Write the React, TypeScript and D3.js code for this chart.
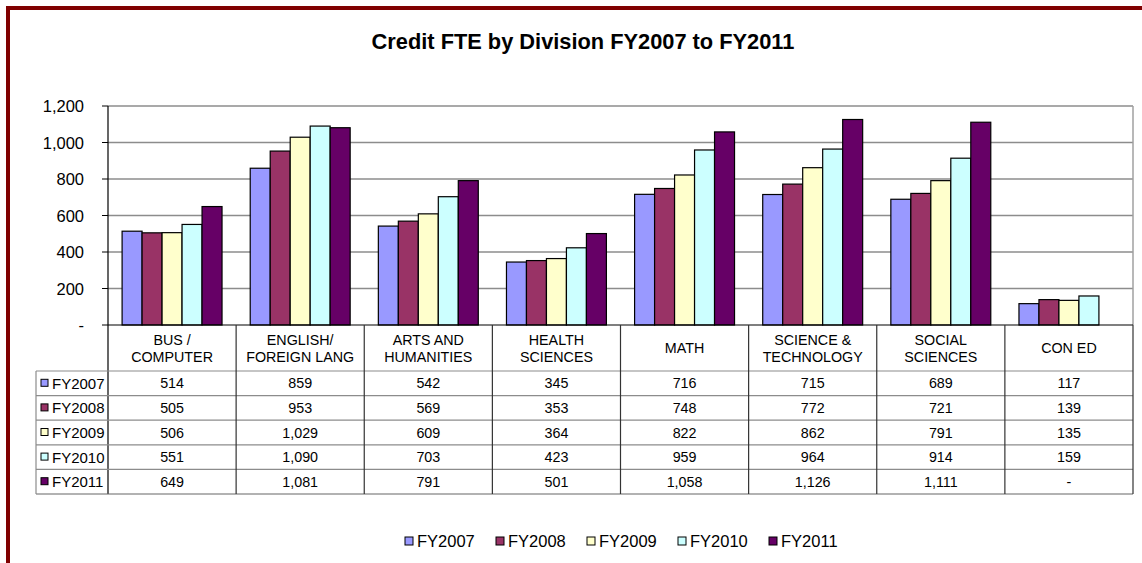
import React from "react";
import * as d3 from "d3";

const categories: string[][] = [
  ["BUS /", "COMPUTER"],
  ["ENGLISH/", "FOREIGN LANG"],
  ["ARTS AND", "HUMANITIES"],
  ["HEALTH", "SCIENCES"],
  ["MATH"],
  ["SCIENCE &", "TECHNOLOGY"],
  ["SOCIAL", "SCIENCES"],
  ["CON ED"],
];
const seriesNames = ["FY2007", "FY2008", "FY2009", "FY2010", "FY2011"];
const seriesColors = ["#9999FF", "#993366", "#FFFFCC", "#CCFFFF", "#660066"];
const fy2007 = [514, 859, 542, 345, 716, 715, 689, 117];
const fy2008 = [505, 953, 569, 353, 748, 772, 721, 139];
const fy2009 = [506, 1029, 609, 364, 822, 862, 791, 135];
const fy2010 = [551, 1090, 703, 423, 959, 964, 914, 159];
const fy2011: (number | null)[] = [649, 1081, 791, 501, 1058, 1126, 1111, null];
const seriesValues = [fy2007, fy2008, fy2009, fy2010, fy2011];
const yTicks = [0, 200, 400, 600, 800, 1000, 1200];

const W = 1142;
const H = 563;
const FONT = "Arial, 'Liberation Sans', sans-serif";

export default function App() {
  const plotLeft = 108;
  const plotRight = 1133;
  const plotTop = 106;
  const plotBottom = 325;
  const tableLeft = 36;
  const headerBottom = 371;
  const rowH = 24.6;
  const tableBottom = headerBottom + rowH * 5;

  const x = d3
    .scaleBand<number>()
    .domain(d3.range(categories.length))
    .range([plotLeft, plotRight])
    .paddingInner(0)
    .paddingOuter(0);
  const bw = x.bandwidth();
  const inner = d3
    .scaleBand<number>()
    .domain(d3.range(seriesNames.length))
    .range([bw * 0.11, bw * 0.89]);
  const y = d3.scaleLinear().domain([0, 1200]).range([plotBottom, plotTop]);
  const fmt = d3.format(",");

  return (
    <svg width={W} height={H} style={{ display: "block", position: "absolute", left: 0, top: 0 }} fontFamily={FONT}>
      <rect x={0} y={0} width={W} height={H} fill="#fff" />
      {/* frame */}
      <rect x={8} y={8} width={W + 20} height={H + 20} fill="none" stroke="#800000" strokeWidth={4} />
      {/* title */}
      <text x={583} y={49} textAnchor="middle" fontSize={21.8} fontWeight="bold" fill="#000">
        Credit FTE by Division FY2007 to FY2011
      </text>
      {/* gridlines */}
      {yTicks.filter((t) => t > 0).map((t) => (
        <line key={t} x1={plotLeft} x2={plotRight} y1={y(t)} y2={y(t)} stroke="#8c8c8c" strokeWidth={1.5} />
      ))}
      {/* plot right border */}
      <line x1={plotRight} x2={plotRight} y1={plotTop} y2={plotBottom} stroke="#a0a0a0" strokeWidth={1.5} />
      {/* y tick labels and marks */}
      {yTicks.map((t) => (
        <g key={t}>
          <line x1={plotLeft - 6} x2={plotLeft} y1={y(t)} y2={y(t)} stroke="#000" />
          <text x={84} y={y(t) + 6} textAnchor="end" fontSize={16.5} fill="#000">
            {t === 0 ? "-" : fmt(t)}
          </text>
        </g>
      ))}
      {/* bars */}
      {seriesValues.map((vals, si) =>
        vals.map((v, ci) =>
          v == null ? null : (
            <rect
              key={`${si}-${ci}`}
              x={(x(ci) as number) + (inner(si) as number)}
              y={y(v)}
              width={inner.bandwidth()}
              height={plotBottom - y(v)}
              fill={seriesColors[si]}
              stroke="#000"
              strokeWidth={1.2}
            />
          )
        )
      )}
      {/* axes */}
      <line x1={plotLeft} x2={plotLeft} y1={plotTop} y2={tableBottom} stroke="#000" strokeWidth={1.2} />
      <line x1={plotLeft} x2={plotRight} y1={plotBottom} y2={plotBottom} stroke="#000" strokeWidth={1.2} />
      {/* table horizontal lines */}
      {d3.range(6).map((i) => (
        <line
          key={i}
          x1={tableLeft}
          x2={plotRight}
          y1={headerBottom + i * rowH}
          y2={headerBottom + i * rowH}
          stroke={i === 5 ? "#666" : "#8c8c8c"}
          strokeWidth={1.2}
        />
      ))}
      <line x1={tableLeft} x2={tableLeft} y1={headerBottom} y2={tableBottom} stroke="#8c8c8c" strokeWidth={1.2} />
      {/* table vertical lines */}
      {d3.range(1, categories.length + 1).map((i) => {
        const xx = i === categories.length ? plotRight : (x(i) as number);
        return <line key={i} x1={xx} x2={xx} y1={plotBottom} y2={tableBottom} stroke="#333" strokeWidth={1.2} />;
      })}
      {/* header labels */}
      {categories.map((lines, ci) => {
        const cx = (x(ci) as number) + bw / 2;
        const baseY = lines.length === 1 ? 353 : 345;
        return (
          <text key={ci} textAnchor="middle" fontSize={14.3} fill="#000">
            {lines.map((l, li) => (
              <tspan key={li} x={cx} y={baseY + li * 16.5}>
                {l}
              </tspan>
            ))}
          </text>
        );
      })}
      {/* rows */}
      {seriesValues.map((vals, si) => {
        const rowTop = headerBottom + si * rowH;
        const by = rowTop + rowH / 2 + 5;
        return (
          <g key={si}>
            <rect x={41} y={rowTop + rowH / 2 - 4} width={7} height={7} fill={seriesColors[si]} stroke="#000" strokeWidth={1} />
            <text x={52} y={by + 0.5} fontSize={15} fill="#000">
              {seriesNames[si]}
            </text>
            {vals.map((v, ci) => (
              <text key={ci} x={(x(ci) as number) + bw / 2} y={by} textAnchor="middle" fontSize={14.3} fill="#000">
                {v == null ? "-" : fmt(v)}
              </text>
            ))}
          </g>
        );
      })}
      {/* legend */}
      {seriesNames.map((n, si) => {
        const lx = 405 + si * 91;
        return (
          <g key={n}>
            <rect x={lx} y={537} width={8} height={8} fill={seriesColors[si]} stroke="#000" strokeWidth={1} />
            <text x={lx + 12} y={547} fontSize={16.5} fill="#000">
              {n}
            </text>
          </g>
        );
      })}
    </svg>
  );
}
